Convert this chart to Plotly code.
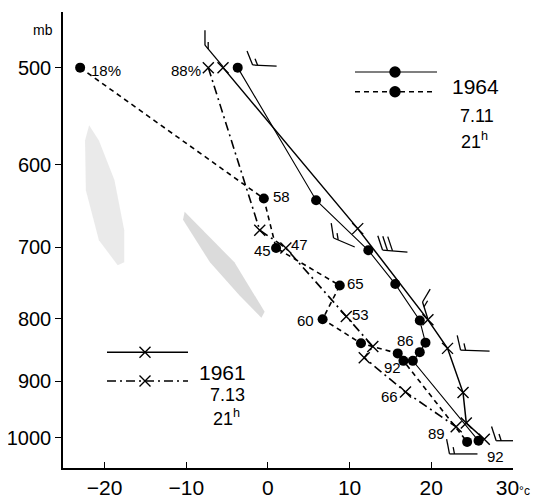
import numpy as np
import plotly.graph_objects as go

# ---------------- data ----------------
# 1964-07-11 21h : temperature (solid, dots) and dew point (dashed, dots)
p64 = [500, 641, 704, 750, 803, 837, 852, 866, 1006]
t64 = [-3.7, 5.9, 12.3, 15.6, 18.6, 19.3, 18.6, 17.75, 25.8]
p64d = [500, 639, 701, 752, 801, 838, 854, 866, 1008]
td64 = [-23.0, -0.5, 1.0, 8.8, 6.7, 11.4, 15.9, 16.6, 24.4]
rh64_idx = [0, 1, 2, 3, 4, 6, 7, 8]
rh64_txt = ["18%", "58", "45", "65", "60", "86", "92", "92"]

# 1961-07-13 21h : temperature (solid, crosses) and dew point (dash-dot, crosses)
p61 = [500, 676, 802, 846, 919, 973, 1003]
t61 = [-5.5, 11.0, 19.6, 22.0, 23.9, 24.3, 26.5]
p61d = [500, 678, 701, 797, 843, 861, 918, 980]
td61 = [-7.3, -1.0, 2.2, 9.6, 12.85, 11.8, 16.85, 23.06]
rh61_idx = [0, 2, 3, 6, 7]
rh61_txt = ["88%", "47", "53", "66", "89"]

# wind barbs (tick end position, staff direction, staff length, ticks)
barb_t = [-7.71, -1.87, 8.04, 14.04, 18.94, 23.6, 22.24, 27.96]
barb_p = [479.4, 497.5, 688, 703.7, 775.6, 848.7, 1031, 1005.8]
barb_dir = [50, 3, 23, 4.6, 72.6, 2, 0, 0]
barb_len = [28, 24, 23, 25, 17, 29, 28, 20]
barb_full = [1, 1, 1, 3, 1, 1, 1, 1]
barb_half = [1, 1, 1, 0, 1, 1, 1, 1]
barb_rot = [-140, -115, -122, -113, -132, -105, -101, -108]

# stippled shading on the chart
shade1_t = [-21.9, -20.7, -18.8, -17.6, -17.6, -18.4, -20.7, -22.3, -22.4]
shade1_p = [557, 573, 617, 678, 720, 724, 691, 629, 573]
shade2_t = [-10.2, -8.3, -4.1, -0.4, -0.8, -3.5, -7.1, -10.4]
shade2_p = [655, 675, 720, 790, 799, 766, 720, 665]

x_ticks = [-20, -10, 0, 10, 20, 30]
x_ticktext = ["−20", "−10", "0", "10", "20", "30<span style='font-size:12px'>°c</span>"]
y_ticks = [500, 600, 700, 800, 900, 1000]
y_ticktext = ["500", "600", "700", "800", "900", "1000"]

# ---------------- layout geometry ----------------
OFF = 8                     # page body margin of the html output
W, H = 542, 498
ML, MT = 63 - OFF, 12 - OFF
PW, PH = 450, 456
MR, MB = W - ML - PW, H - MT - PH
XR = [-25.1, 30.02]
YR = [3.0247, 2.6537]   # log10(p), reversed
pxT = PW / (XR[1] - XR[0])
pxD = PH / (YR[0] - YR[1])

FONT = "Liberation Sans, Arial, sans-serif"
BLACK = "black"

fig = go.Figure()

# shading
for st, sp, a in [(shade1_t, shade1_p, 0.13), (shade2_t, shade2_p, 0.22)]:
    fig.add_trace(go.Scatter(x=st, y=sp, mode="lines", fill="toself",
                             fillcolor=f"rgba(90,90,90,{a})", line=dict(width=0),
                             hoverinfo="skip", showlegend=False))

# profiles
fig.add_trace(go.Scatter(x=t64, y=p64, mode="lines+markers",
                         line=dict(color=BLACK, width=1.1),
                         marker=dict(symbol="circle", size=10, color=BLACK),
                         showlegend=False))
fig.add_trace(go.Scatter(x=td64, y=p64d, mode="lines+markers",
                         line=dict(color=BLACK, width=1.6, dash="5px,4px"),
                         marker=dict(symbol="circle", size=10, color=BLACK),
                         showlegend=False))
fig.add_trace(go.Scatter(x=t61, y=p61, mode="lines+markers",
                         line=dict(color=BLACK, width=1.5),
                         marker=dict(symbol="x-thin", size=11, color=BLACK,
                                     line=dict(color=BLACK, width=1.4)),
                         showlegend=False))
fig.add_trace(go.Scatter(x=td61, y=p61d, mode="lines+markers",
                         line=dict(color=BLACK, width=1.6, dash="9px,4px,2px,4px"),
                         marker=dict(symbol="x-thin", size=11, color=BLACK,
                                     line=dict(color=BLACK, width=1.4)),
                         showlegend=False))


def to_data(t0, p0, dx, dy):
    return t0 + dx / pxT, 10 ** (np.log10(p0) + dy / pxD)


bx, by = [], []
for t0, p0, ang, L, nf, nh, rot in zip(barb_t, barb_p, barb_dir, barb_len,
                                       barb_full, barb_half, barb_rot):
    a = np.radians(ang)
    ux, uy = np.cos(a), np.sin(a)
    r = np.radians(ang + rot)
    vx, vy = np.cos(r), np.sin(r)
    segs = [((0, 0), (L * ux, L * uy))]
    for k in range(nf):
        b = (k * 5 * ux, k * 5 * uy)
        segs.append((b, (b[0] + 15 * vx, b[1] + 15 * vy)))
    for k in range(nh):
        b = ((nf + k) * 5 * ux, (nf + k) * 5 * uy)
        segs.append((b, (b[0] + 7 * vx, b[1] + 7 * vy)))
    for (x0, y0), (x1, y1) in segs:
        a0 = to_data(t0, p0, x0, y0)
        a1 = to_data(t0, p0, x1, y1)
        bx += [a0[0], a1[0], None]
        by += [a0[1], a1[1], None]
fig.add_trace(go.Scatter(x=bx, y=by, mode="lines", line=dict(color=BLACK, width=1.3),
                         hoverinfo="skip", showlegend=False))

# RH labels
annots = []
off64 = [(26, 3), (18, -2), (-14, 2), (16, -2), (-17, 1), (8, -13), (-11, 7), (28, 15)]
for i, txt, (dx, dy) in zip(rh64_idx, rh64_txt, off64):
    annots.append(dict(x=td64[i], y=np.log10(p64d[i]), xref="x", yref="y", text=txt,
                       showarrow=False, xshift=dx, yshift=-dy,
                       font=dict(family=FONT, size=15, color=BLACK)))
off61 = [(-22, 3), (14, -4), (14, -2), (-16, 5), (-20, 7)]
for i, txt, (dx, dy) in zip(rh61_idx, rh61_txt, off61):
    annots.append(dict(x=td61[i], y=np.log10(p61d[i]), xref="x", yref="y", text=txt,
                       showarrow=False, xshift=dx, yshift=-dy,
                       font=dict(family=FONT, size=15, color=BLACK)))


# custom legends (positions given in page pixels, converted to paper coords)
def px2paper(x, y):
    return (x - OFF - ML) / PW, (MT + PH - (y - OFF)) / PH


leg = [
    # (y_pix, x0, x1, xmark, dash, symbol, width)
    (72, 355, 437, 395, "solid", "circle", 1.1),
    (91.7, 355, 433, 395, "5px,4px", "circle", 1.6),
    (352.3, 107, 188, 145, "solid", "x-thin", 1.5),
    (381, 107, 188, 145, "9px,4px,2px,4px", "x-thin", 1.6),
]
for yp, x0, x1, xm, dash, sym, lw in leg:
    a0 = px2paper(x0, yp)
    a1 = px2paper(x1, yp)
    am = px2paper(xm, yp)
    fig.add_trace(go.Scatter(x=[a0[0], a1[0]], y=[a0[1], a1[1]], xaxis="x2", yaxis="y2",
                             mode="lines", line=dict(color=BLACK, width=lw, dash=dash),
                             hoverinfo="skip", showlegend=False))
    fig.add_trace(go.Scatter(x=[am[0]], y=[am[1]], xaxis="x2", yaxis="y2", mode="markers",
                             marker=dict(symbol=sym, size=10 if sym == "circle" else 11,
                                         color=BLACK, line=dict(color=BLACK, width=1.4)),
                             hoverinfo="skip", showlegend=False))

leg_txt = [
    ("1964", 475, 86.7, 21), ("7.11", 477, 116.5, 18), ("21<sup>h</sup>", 474, 140, 18),
    ("1961", 222, 372.5, 21), ("7.13", 227, 395, 18), ("21<sup>h</sup>", 226, 417.5, 18),
]
for txt, x, y, s in leg_txt:
    px, py = px2paper(x, y)
    annots.append(dict(x=px, y=py, xref="paper", yref="paper", text=txt, showarrow=False,
                       xanchor="center", yanchor="middle",
                       font=dict(family=FONT, size=s, color=BLACK)))

mx, my = px2paper(43, 30)
annots.append(dict(x=mx, y=my, xref="paper", yref="paper", text="mb", showarrow=False,
                   xanchor="center", yanchor="middle",
                   font=dict(family=FONT, size=14, color=BLACK)))

fig.update_layout(
    width=W, height=H,
    margin=dict(l=ML, r=MR, t=MT, b=MB, pad=0, autoexpand=False),
    paper_bgcolor="white", plot_bgcolor="white",
    showlegend=False,
    annotations=annots,
    xaxis=dict(range=XR, tickvals=x_ticks, ticktext=x_ticktext, ticks="inside",
               ticklen=6, tickwidth=1.3, tickcolor=BLACK, showline=True, linecolor=BLACK,
               linewidth=1.5, showgrid=False, zeroline=False, automargin=False,
               tickfont=dict(family=FONT, size=21, color=BLACK)),
    yaxis=dict(type="log", range=YR, tickvals=y_ticks, ticktext=y_ticktext, ticks="outside",
               ticklen=6, tickwidth=1.3, tickcolor=BLACK, showline=True, linecolor=BLACK,
               linewidth=1.5, showgrid=False, zeroline=False, automargin=False,
               tickfont=dict(family=FONT, size=20, color=BLACK)),
    xaxis2=dict(overlaying="x", anchor="y2", range=[0, 1], visible=False),
    yaxis2=dict(overlaying="y", anchor="x2", range=[0, 1], visible=False),
)

fig.write_html("out.html")
